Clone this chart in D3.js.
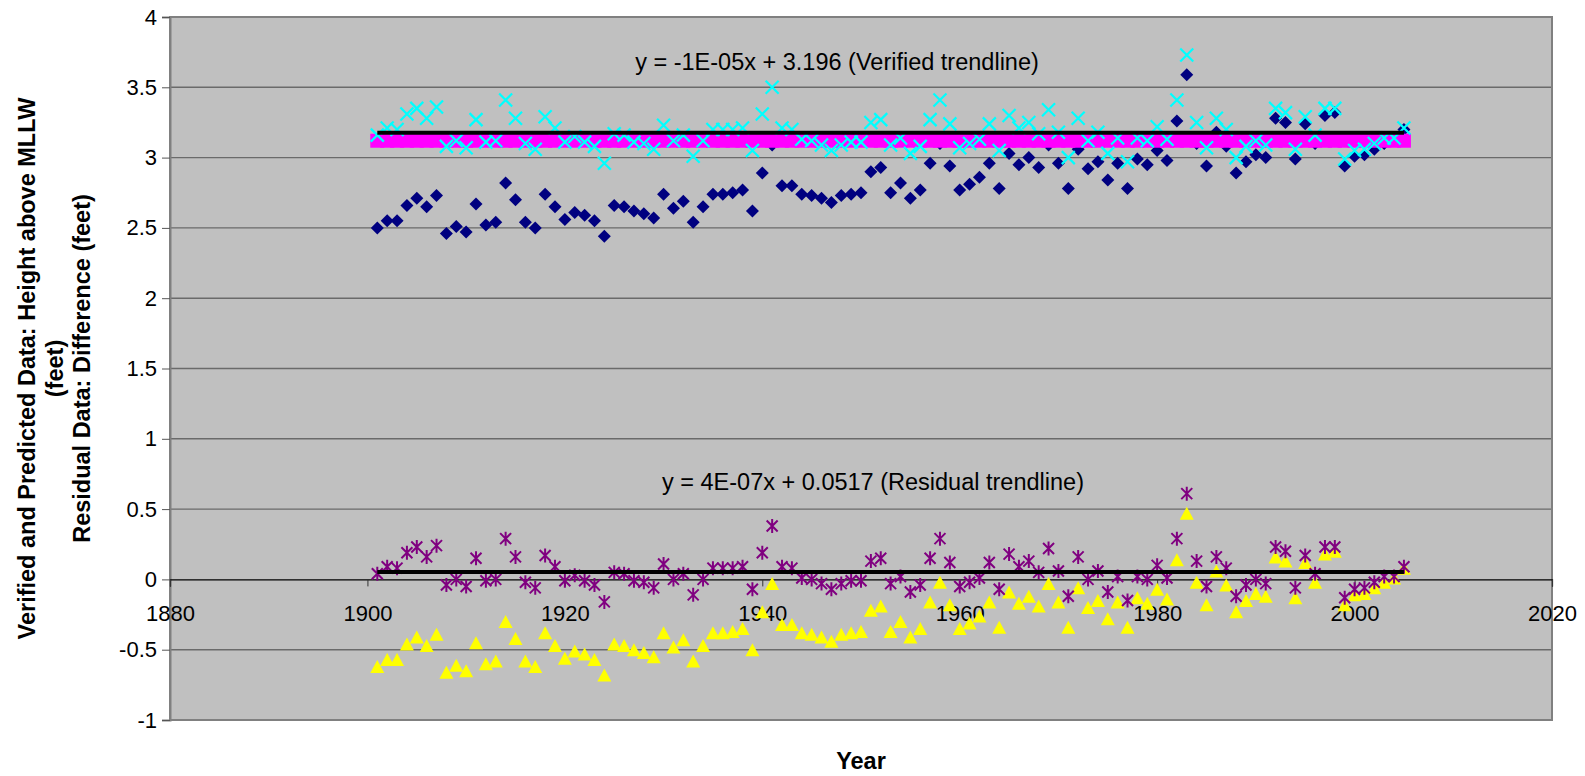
<!DOCTYPE html>
<html><head><meta charset="utf-8">
<script src="https://cdn.jsdelivr.net/npm/d3@7"></script>
<style>
html,body{margin:0;padding:0;background:#fff;}
svg{display:block;font-family:Arial,"Liberation Sans",sans-serif;}
</style></head><body>
<svg id="chart" width="1585" height="776"></svg>
<script>
const years = [1901,1902,1903,1904,1905,1906,1907,1908,1909,1910,1911,1912,1913,1914,1915,1916,1917,1918,1919,1920,
1921,1922,1923,1924,1925,1926,1927,1928,1929,1930,1931,1932,1933,1934,1935,1936,1937,1938,1939,1940,
1941,1942,1943,1944,1945,1946,1947,1948,1949,1950,1951,1952,1953,1954,1955,1956,1957,1958,1959,1960,
1961,1962,1963,1964,1965,1966,1967,1968,1969,1970,1971,1972,1973,1974,1975,1976,1977,1978,1979,1980,
1981,1982,1983,1984,1985,1986,1987,1988,1989,1990,1991,1992,1993,1994,1995,1996,1997,1998,1999,2000,
2001,2002,2003,2004,2005];

const verified = [2.50,2.55,2.55,2.66,2.71,2.65,2.73,2.46,2.51,2.47,2.67,2.52,2.54,2.82,2.70,2.54,2.50,2.74,2.65,2.56,
2.61,2.59,2.55,2.44,2.66,2.65,2.62,2.60,2.57,2.74,2.64,2.69,2.54,2.65,2.74,2.74,2.75,2.77,2.62,2.89,
3.09,2.80,2.80,2.74,2.73,2.71,2.68,2.73,2.74,2.75,2.90,2.93,2.75,2.82,2.71,2.77,2.96,3.10,2.94,2.77,
2.81,2.86,2.96,2.78,3.03,2.95,3.00,2.93,3.09,2.96,2.78,3.06,2.92,2.97,2.84,2.96,2.78,2.99,2.95,3.05,
2.98,3.26,3.59,3.10,2.94,3.18,3.08,2.89,2.97,3.02,3.00,3.28,3.25,2.99,3.24,3.10,3.30,3.32,2.94,3.01,
3.02,3.06,3.10,3.13,3.20];

const predicted = [3.16,3.21,3.20,3.31,3.35,3.28,3.36,3.08,3.12,3.07,3.27,3.11,3.12,3.41,3.28,3.10,3.06,3.29,3.21,3.11,
3.15,3.11,3.08,2.96,3.17,3.16,3.11,3.10,3.06,3.23,3.12,3.16,3.01,3.12,3.20,3.20,3.20,3.21,3.05,3.31,
3.50,3.21,3.20,3.13,3.12,3.09,3.05,3.09,3.11,3.11,3.25,3.27,3.09,3.14,3.03,3.08,3.27,3.41,3.24,3.07,
3.10,3.13,3.24,3.05,3.30,3.21,3.25,3.17,3.34,3.18,3.00,3.28,3.12,3.18,3.03,3.14,2.97,3.14,3.12,3.22,
3.13,3.41,3.73,3.25,3.07,3.28,3.20,3.00,3.08,3.12,3.09,3.35,3.32,3.06,3.29,3.16,3.35,3.35,2.99,3.05,
3.06,3.10,3.14,3.14,3.21];

const meanLevel = [3.12,3.12,3.12,3.12,3.12,3.12,3.12,3.12,3.12,3.12,3.12,3.12,3.12,3.12,3.12,3.12,3.12,3.12,3.12,3.12,
3.12,3.12,3.12,3.12,3.12,3.12,3.12,3.12,3.12,3.12,3.12,3.12,3.12,3.12,3.12,3.12,3.12,3.12,3.12,3.12,
3.12,3.12,3.12,3.12,3.12,3.12,3.12,3.12,3.12,3.12,3.12,3.12,3.12,3.12,3.12,3.12,3.12,3.12,3.12,3.12,
3.12,3.12,3.12,3.12,3.12,3.12,3.12,3.12,3.12,3.12,3.12,3.12,3.12,3.12,3.12,3.12,3.12,3.12,3.12,3.12,
3.12,3.12,3.12,3.12,3.12,3.12,3.12,3.12,3.12,3.12,3.12,3.12,3.12,3.12,3.12,3.12,3.12,3.12,3.12,3.12,
3.12,3.12,3.12,3.12,3.12];

const residualPredicted = [0.04,0.09,0.08,0.19,0.23,0.16,0.24,-0.04,0.00,-0.05,0.15,-0.01,0.00,0.29,0.16,-0.02,-0.06,0.17,0.09,-0.01,
0.03,-0.01,-0.04,-0.16,0.05,0.04,-0.01,-0.02,-0.06,0.11,0.00,0.04,-0.11,0.00,0.08,0.08,0.08,0.09,-0.07,0.19,
0.38,0.09,0.08,0.01,0.00,-0.03,-0.07,-0.03,-0.01,-0.01,0.13,0.15,-0.03,0.02,-0.09,-0.04,0.15,0.29,0.12,-0.05,
-0.02,0.01,0.12,-0.07,0.18,0.09,0.13,0.05,0.22,0.06,-0.12,0.16,0.00,0.06,-0.09,0.02,-0.15,0.02,0.00,0.10,
0.01,0.29,0.61,0.13,-0.05,0.16,0.08,-0.12,-0.04,0.00,-0.03,0.23,0.20,-0.06,0.17,0.04,0.23,0.23,-0.13,-0.07,
-0.06,-0.02,0.02,0.02,0.09];

const residualVerified = [-0.62,-0.57,-0.57,-0.46,-0.41,-0.47,-0.39,-0.66,-0.61,-0.65,-0.45,-0.60,-0.58,-0.30,-0.42,-0.58,-0.62,-0.38,-0.47,-0.56,
-0.51,-0.53,-0.57,-0.68,-0.46,-0.47,-0.50,-0.52,-0.55,-0.38,-0.48,-0.43,-0.58,-0.47,-0.38,-0.38,-0.37,-0.35,-0.50,-0.23,
-0.03,-0.32,-0.32,-0.38,-0.39,-0.41,-0.44,-0.39,-0.38,-0.37,-0.22,-0.19,-0.37,-0.30,-0.41,-0.35,-0.16,-0.02,-0.18,-0.35,
-0.31,-0.26,-0.16,-0.34,-0.09,-0.17,-0.12,-0.19,-0.03,-0.16,-0.34,-0.06,-0.20,-0.15,-0.28,-0.16,-0.34,-0.13,-0.17,-0.07,
-0.14,0.14,0.47,-0.02,-0.18,0.06,-0.04,-0.23,-0.15,-0.10,-0.12,0.16,0.13,-0.13,0.12,-0.02,0.18,0.20,-0.18,-0.11,
-0.10,-0.06,-0.02,0.01,0.08];

const trendYears = [1901, 2005];
const verifiedTrend = [3.177, 3.176];
const residualTrend = [0.0525, 0.0525];

const xTicks = [1880,1900,1920,1940,1960,1980,2000,2020];
const yTicks = [-1,-0.5,0,0.5,1,1.5,2,2.5,3,3.5,4];

const verifiedLabel = "y = -1E-05x + 3.196 (Verified trendline)";
const residualLabel = "y = 4E-07x + 0.0517 (Residual trendline)";
const xTitle = "Year";
const yTitleLines = ["Verified and Predicted Data: Height above MLLW","(feet)","Residual Data: Difference (feet)"];

const svg = d3.select("#chart");
const L = 170, R = 1552, T = 17, B = 720;
const x = d3.scaleLinear().domain([1880, 2020]).range([L, R]);
const y = d3.scaleLinear().domain([-1, 4]).range([B, T]);

// plot background
svg.append("rect").attr("x", L).attr("y", T).attr("width", R - L).attr("height", B - T)
  .attr("fill", "#c0c0c0");

// gridlines
svg.append("g").selectAll("line").data(yTicks.filter(d => d !== 0)).join("line")
  .attr("x1", L).attr("x2", R).attr("y1", d => y(d)).attr("y2", d => y(d))
  .attr("stroke", "#6a6a6a").attr("stroke-width", 1.4);

// border
svg.append("rect").attr("x", L).attr("y", T).attr("width", R - L).attr("height", B - T)
  .attr("fill", "none").attr("stroke", "#808080").attr("stroke-width", 2);

// y axis
const yAxis = d3.axisLeft(y).tickValues(yTicks).tickSize(8).tickPadding(5)
  .tickFormat(d => String(d));
const gy = svg.append("g").attr("transform", `translate(${L},0)`).call(yAxis);
gy.select(".domain").attr("stroke", "#808080").attr("stroke-width", 2);
gy.selectAll(".tick line").attr("stroke", "#555");
gy.selectAll("text").attr("font-size", 22).attr("font-family", "Arial, 'Liberation Sans', sans-serif").attr("fill", "#000");

// x axis at zero
const xAxis = d3.axisBottom(x).tickValues(xTicks).tickSize(7).tickPadding(19)
  .tickFormat(d3.format("d"));
const gx = svg.append("g").attr("transform", `translate(0,${y(0)})`).call(xAxis);
gx.select(".domain").attr("stroke", "#000").attr("stroke-width", 1.2);
gx.selectAll(".tick line").attr("stroke", "#333");
gx.selectAll("text").attr("font-size", 22).attr("font-family", "Arial, 'Liberation Sans', sans-serif").attr("fill", "#000");

const pts = (vals) => years.map((yr, i) => ({yr, v: vals[i]}));

// verified diamonds
svg.append("g").selectAll("path").data(pts(verified)).join("path")
  .attr("transform", d => `translate(${x(d.yr)},${y(d.v)})`)
  .attr("d", "M0,-6.5L6.5,0L0,6.5L-6.5,0Z").attr("fill", "#000080");

// mean level magenta squares
svg.append("g").selectAll("rect").data(pts(meanLevel)).join("rect")
  .attr("x", d => x(d.yr) - 7).attr("y", d => y(d.v) - 7)
  .attr("width", 14).attr("height", 14).attr("fill", "#ff00ff");

// predicted cyan X
svg.append("g").selectAll("path").data(pts(predicted)).join("path")
  .attr("transform", d => `translate(${x(d.yr)},${y(d.v)})`)
  .attr("d", "M-6.5,-6.5L6.5,6.5M-6.5,6.5L6.5,-6.5")
  .attr("stroke", "#00ffff").attr("stroke-width", 2.2).attr("fill", "none");

// residual verified yellow triangles
svg.append("g").selectAll("path").data(pts(residualVerified)).join("path")
  .attr("transform", d => `translate(${x(d.yr)},${y(d.v)})`)
  .attr("d", "M0,-6.5L7,6.5L-7,6.5Z").attr("fill", "#ffff00");

// residual predicted purple asterisks
svg.append("g").selectAll("path").data(pts(residualPredicted)).join("path")
  .attr("transform", d => `translate(${x(d.yr)},${y(d.v)})`)
  .attr("d", "M-5.5,-5.5L5.5,5.5M-5.5,5.5L5.5,-5.5M0,-7L0,7")
  .attr("stroke", "#800080").attr("stroke-width", 2).attr("fill", "none");

// trendlines
const line = d3.line().x(d => x(d.yr)).y(d => y(d.v));
svg.append("path").datum(trendYears.map((yr, i) => ({yr, v: verifiedTrend[i]})))
  .attr("d", line).attr("stroke", "#000").attr("stroke-width", 4).attr("fill", "none");
svg.append("path").datum(trendYears.map((yr, i) => ({yr, v: residualTrend[i]})))
  .attr("d", line).attr("stroke", "#000").attr("stroke-width", 4).attr("fill", "none");

// trendline labels
svg.append("text").attr("x", 837).attr("y", 70).attr("text-anchor", "middle")
  .attr("font-size", 23.5).text(verifiedLabel);
svg.append("text").attr("x", 873).attr("y", 490).attr("text-anchor", "middle")
  .attr("font-size", 23.5).text(residualLabel);

// axis titles
svg.append("text").attr("x", 861).attr("y", 769).attr("text-anchor", "middle")
  .attr("font-size", 23.5).attr("font-weight", "bold").text(xTitle);
const yt = svg.append("text").attr("transform", `translate(35,${(T + B) / 2}) rotate(-90)`)
  .attr("text-anchor", "middle").attr("font-size", 23.5).attr("font-weight", "bold");
yTitleLines.forEach((t, i) => {
  yt.append("tspan").attr("x", 0).attr("y", i * 27.5).text(t);
});
</script>
</body></html>
